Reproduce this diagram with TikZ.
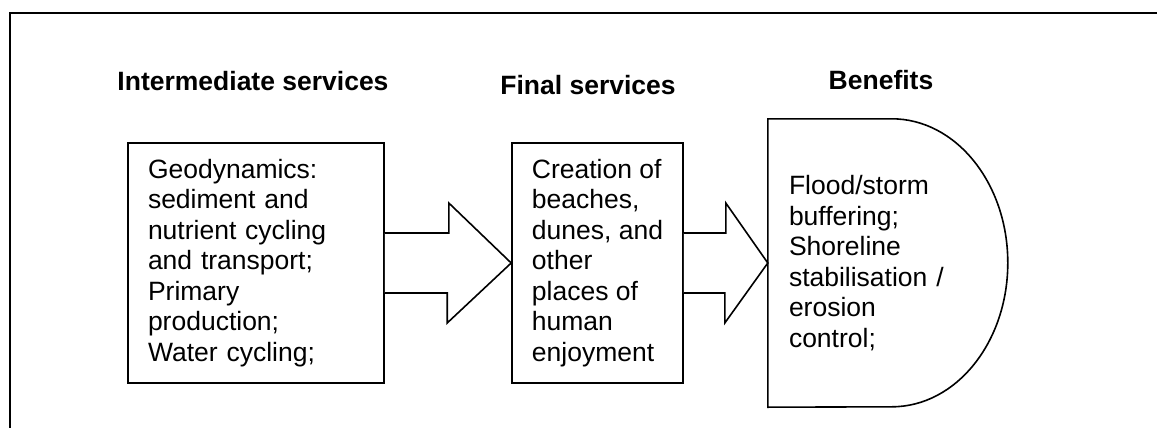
\documentclass[tikz,border=0pt]{standalone}
\usepackage{fontspec}
\setmainfont{Liberation Sans}

\begin{document}
\begin{tikzpicture}
  [x=1pt, y=-1pt,
   every node/.style={font=\fontsize{26.5}{30.5}\selectfont, inner sep=0pt},
   heading/.style={font=\fontsize{26.5}{30.5}\selectfont\bfseries, anchor=base},
   box/.style={draw, line width=1.6pt, align=left, minimum height=240pt},
   blockarrow/.style={draw, line width=1.6pt, line join=miter, fill=white}]
  \useasboundingbox (0,0) rectangle (1157,428);
  \draw[line width=2.4pt] (10,450) -- (10,13) -- (1170,13);
  \node[heading] (interhead) at (253,91) {Intermediate services};
  \node[heading] (finalhead) at (588,95) {Final services};
  \node[heading] (benhead) at (881,89) {Benefits};
  \node[box, minimum width=256pt, text width=216pt] (inter) at (256,263)
     {Geodynamics:\\sediment and\\nutrient cycling\\and transport;\\Primary\\production;\\Water cycling;};
  \node[box, minimum width=171pt] (final) at (597.5,263)
     {Creation of\\beaches,\\dunes, and\\other\\places of\\human\\enjoyment};
  \node[minimum width=240pt, minimum height=288pt, text width=198pt, align=left] (ben) at (888,263)
     {Flood/storm\\buffering;\\Shoreline\\stabilisation /\\erosion\\control;};
  \draw[line width=1.6pt] (ben.north west) -- ++(124,0)
     arc[start angle=-90, end angle=90, x radius=116, y radius=144] -- (ben.south west) -- cycle;
  \draw[blockarrow] ([yshift=30pt]inter.east) -- ++(64,0) -- ++(0,-30) -- (final.west)
     -- ++(-64,60) -- ++(0,-30) -- ([yshift=-30pt]inter.east);
  \draw[blockarrow] ([yshift=30pt]final.east) -- ++(42,0) -- ++(0,-30) -- (ben.west)
     -- ++(-43,60) -- ++(0,-30) -- ([yshift=-30pt]final.east);
\end{tikzpicture}
\end{document}
